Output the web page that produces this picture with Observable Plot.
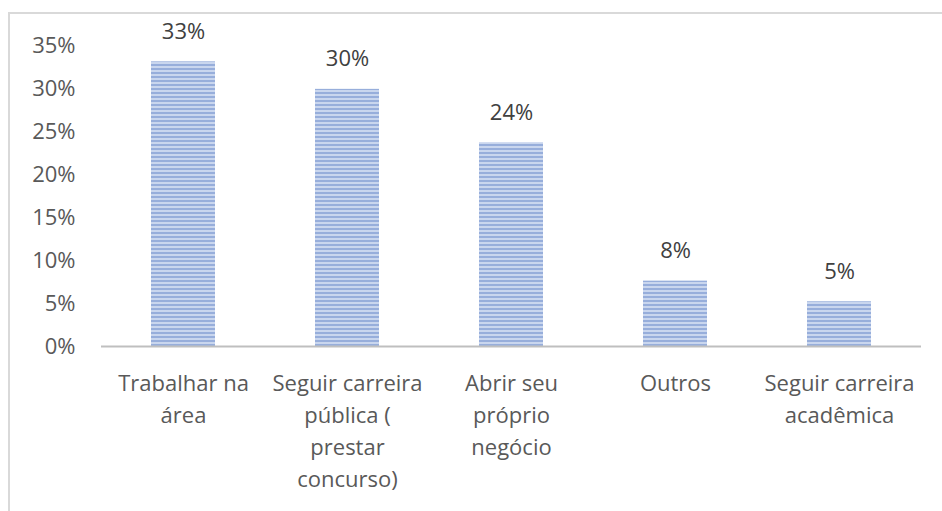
<!DOCTYPE html>
<html>
<head>
<meta charset="utf-8">
<script src="https://cdn.jsdelivr.net/npm/d3@7"></script>
<script src="https://cdn.jsdelivr.net/npm/@observablehq/plot@0.6"></script>
<style>
  html, body { margin: 0; padding: 0; background: #fff; }
  #wrap { position: relative; width: 942px; height: 511px; overflow: hidden; }
  #border { position: absolute; left: 8px; top: 12px; right: -10px; bottom: -10px;
            border-left: 2px solid #d9d9d9; border-top: 2px solid #d9d9d9; }
  #chart { position: absolute; left: 0; top: 0; }
</style>
</head>
<body>
<div id="wrap"><div id="border"></div><div id="chart"></div></div>
<script>
const categories = [
  "Trabalhar na área",
  "Seguir carreira pública ( prestar concurso)",
  "Abrir seu próprio negócio",
  "Outros",
  "Seguir carreira acadêmica"
];
const tickLabels = [
  "Trabalhar na\nárea",
  "Seguir carreira\npública (\nprestar\nconcurso)",
  "Abrir seu\npróprio\nnegócio",
  "Outros",
  "Seguir carreira\nacadêmica"
];
const values = [0.331, 0.299, 0.237, 0.076, 0.052];
const valueLabels = ["33%", "30%", "24%", "8%", "5%"];
const yTicks = [0, 0.05, 0.10, 0.15, 0.20, 0.25, 0.30, 0.35];

const data = categories.map((c, i) => ({category: c, value: values[i], label: valueLabels[i]}));
const labelOf = new Map(categories.map((c, i) => [c, tickLabels[i]]));

const chart = Plot.plot({
  width: 942,
  height: 511,
  marginLeft: 101,
  marginRight: 21,
  marginTop: 45,
  marginBottom: 165,
  style: {fontFamily: "'Open Sans', sans-serif", fontSize: "22px", color: "#595959", background: "transparent"},
  x: {domain: categories, paddingInner: 0.61, paddingOuter: 0.305, label: null},
  y: {domain: [0, 0.35], label: null},
  marks: [
    Plot.barY(data, {x: "category", y: "value", fill: "url(#stripes)"}),
    Plot.ruleY([0], {stroke: "#bfbfbf", strokeWidth: 2}),
    Plot.text(data, {x: "category", y: "value", text: "label", dy: -30, fill: "#404040", fontSize: 22}),
    Plot.axisY({ticks: yTicks, tickFormat: d3.format(".0%"), tickSize: 0, tickPadding: 26, fontSize: 22}),
    Plot.axisX({tickFormat: d => labelOf.get(d), tickSize: 0, tickPadding: 22, lineHeight: 1.45, fontSize: 22})
  ]
});

const ns = "http://www.w3.org/2000/svg";
const defs = document.createElementNS(ns, "defs");
const pat = document.createElementNS(ns, "pattern");
pat.setAttribute("id", "stripes");
pat.setAttribute("patternUnits", "userSpaceOnUse");
pat.setAttribute("width", "8");
pat.setAttribute("height", "4");
const r1 = document.createElementNS(ns, "rect");
r1.setAttribute("width", "8"); r1.setAttribute("height", "4"); r1.setAttribute("fill", "#c9d6ee");
const r2 = document.createElementNS(ns, "rect");
r2.setAttribute("width", "8"); r2.setAttribute("height", "2"); r2.setAttribute("fill", "#97aedb");
pat.appendChild(r1); pat.appendChild(r2);
defs.appendChild(pat);
chart.insertBefore(defs, chart.firstChild);

document.getElementById("chart").appendChild(chart);
</script>
</body>
</html>
